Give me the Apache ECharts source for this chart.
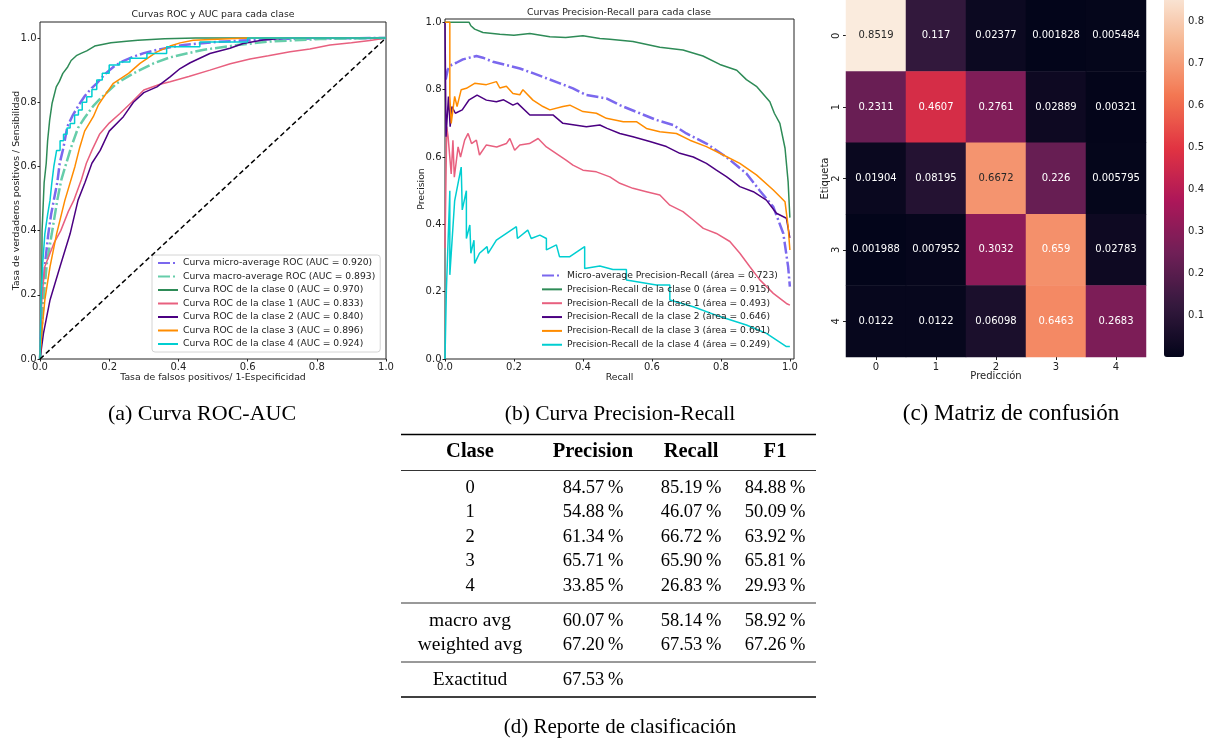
<!DOCTYPE html>
<html>
<head>
<meta charset="utf-8">
<script src="https://cdn.jsdelivr.net/npm/echarts@6/dist/echarts.min.js"></script>
<style>
  html, body { margin: 0; padding: 0; background: #fff; }
  #chart { width: 1207px; height: 742px; }
</style>
</head>
<body>
<div id="chart"></div>
<script>
// ---------- ROC curves: [false positive rate, true positive rate] ----------
const rocMicro = [[0,0],[0.004,0.1],[0.007,0.184],[0.015,0.3],[0.024,0.39],[0.032,0.45],[0.04,0.495],[0.05,0.55],[0.057,0.61],[0.068,0.66],[0.079,0.724],[0.095,0.76],[0.115,0.796],[0.13,0.82],[0.15,0.845],[0.164,0.859],[0.19,0.89],[0.212,0.91],[0.24,0.928],[0.27,0.942],[0.3,0.953],[0.338,0.963],[0.38,0.972],[0.415,0.978],[0.46,0.983],[0.511,0.988],[0.58,0.992],[0.656,0.996],[0.8,0.999],[1,1]];
const rocMacro = [[0,0],[0.01,0.184],[0.02,0.3],[0.034,0.39],[0.05,0.495],[0.062,0.56],[0.076,0.61],[0.09,0.66],[0.11,0.72],[0.128,0.75],[0.153,0.787],[0.175,0.812],[0.193,0.83],[0.222,0.859],[0.27,0.89],[0.328,0.921],[0.376,0.94],[0.47,0.963],[0.57,0.978],[0.66,0.989],[0.81,0.997],[1,1]];
const rocClase0 = [[0,0],[0.003,0.1],[0.005,0.25],[0.006,0.4],[0.01,0.5],[0.012,0.55],[0.018,0.61],[0.022,0.68],[0.028,0.745],[0.035,0.797],[0.047,0.848],[0.056,0.865],[0.066,0.89],[0.08,0.91],[0.09,0.93],[0.105,0.945],[0.12,0.953],[0.135,0.96],[0.158,0.975],[0.18,0.98],[0.205,0.985],[0.25,0.99],[0.283,0.993],[0.36,0.998],[0.45,1.0],[1,1]];
const rocClase1 = [[0,0],[0.005,0.184],[0.014,0.288],[0.04,0.36],[0.06,0.4],[0.082,0.46],[0.098,0.495],[0.12,0.56],[0.134,0.61],[0.15,0.65],[0.172,0.7],[0.2,0.735],[0.231,0.765],[0.265,0.8],[0.3,0.838],[0.347,0.856],[0.376,0.864],[0.43,0.88],[0.491,0.9],[0.55,0.92],[0.607,0.935],[0.66,0.945],[0.723,0.957],[0.78,0.966],[0.838,0.978],[0.9,0.985],[0.954,0.992],[1,1]];
const rocClase2 = [[0,0],[0.01,0.08],[0.029,0.184],[0.058,0.288],[0.087,0.39],[0.11,0.495],[0.13,0.55],[0.15,0.61],[0.174,0.65],[0.2,0.71],[0.241,0.755],[0.27,0.8],[0.3,0.83],[0.338,0.848],[0.376,0.879],[0.405,0.905],[0.434,0.923],[0.491,0.952],[0.549,0.968],[0.587,0.983],[0.645,0.994],[0.713,1.0],[1,1]];
const rocClase3 = [[0,0],[0.005,0.08],[0.014,0.184],[0.029,0.288],[0.048,0.39],[0.072,0.495],[0.079,0.52],[0.101,0.6],[0.115,0.66],[0.129,0.71],[0.154,0.755],[0.168,0.79],[0.178,0.807],[0.212,0.859],[0.256,0.89],[0.289,0.921],[0.338,0.957],[0.376,0.975],[0.405,0.985],[0.443,0.993],[0.6,1.0],[1,1]];
const rocClase4 = [[0,0],[0.003,0.18],[0.008,0.3],[0.014,0.39],[0.022,0.45],[0.029,0.495],[0.034,0.547],[0.04,0.6],[0.048,0.65],[0.058,0.65],[0.058,0.68],[0.068,0.68],[0.068,0.7],[0.078,0.7],[0.078,0.72],[0.087,0.72],[0.087,0.734],[0.1,0.734],[0.1,0.76],[0.111,0.76],[0.111,0.776],[0.122,0.776],[0.122,0.8],[0.135,0.8],[0.135,0.817],[0.15,0.817],[0.15,0.84],[0.164,0.84],[0.164,0.869],[0.18,0.869],[0.18,0.89],[0.2,0.89],[0.2,0.916],[0.23,0.916],[0.23,0.925],[0.26,0.925],[0.26,0.937],[0.309,0.937],[0.309,0.952],[0.366,0.952],[0.366,0.973],[0.462,0.973],[0.462,0.988],[0.6,0.988],[0.6,1.0],[1,1]];
const rocAuc = [0.920, 0.893, 0.970, 0.833, 0.840, 0.896, 0.924];

// ---------- Precision-Recall curves: [recall, precision] ----------
const prMicro = [[0.002,0.83],[0.008,0.86],[0.02,0.875],[0.033,0.88],[0.052,0.89],[0.07,0.895],[0.091,0.9],[0.11,0.895],[0.139,0.883],[0.178,0.873],[0.217,0.863],[0.255,0.849],[0.294,0.834],[0.333,0.819],[0.371,0.804],[0.41,0.784],[0.468,0.774],[0.507,0.754],[0.565,0.73],[0.613,0.71],[0.662,0.695],[0.7,0.67],[0.758,0.64],[0.816,0.6],[0.874,0.551],[0.913,0.5],[0.952,0.452],[0.981,0.373],[0.995,0.274],[1.0,0.215]];
const prClase0 = [[0,1],[0.07,1],[0.075,0.99],[0.086,0.98],[0.11,0.97],[0.159,0.965],[0.2,0.962],[0.246,0.967],[0.304,0.957],[0.35,0.955],[0.4,0.96],[0.449,0.952],[0.478,0.95],[0.545,0.943],[0.623,0.926],[0.69,0.918],[0.748,0.9],[0.797,0.875],[0.846,0.858],[0.874,0.83],[0.903,0.81],[0.942,0.764],[0.955,0.73],[0.971,0.7],[0.986,0.626],[0.995,0.526],[1.0,0.42]];
const prClase1 = [[0,0.33],[0.005,0.69],[0.009,0.66],[0.018,0.55],[0.023,0.65],[0.027,0.54],[0.038,0.63],[0.045,0.6],[0.057,0.65],[0.067,0.67],[0.077,0.64],[0.091,0.65],[0.1,0.606],[0.12,0.636],[0.15,0.63],[0.178,0.64],[0.188,0.655],[0.202,0.62],[0.217,0.636],[0.245,0.64],[0.27,0.655],[0.294,0.63],[0.323,0.61],[0.352,0.59],[0.371,0.576],[0.4,0.561],[0.439,0.556],[0.478,0.541],[0.507,0.522],[0.545,0.507],[0.584,0.497],[0.623,0.487],[0.652,0.457],[0.69,0.438],[0.72,0.413],[0.749,0.388],[0.787,0.373],[0.826,0.349],[0.855,0.314],[0.884,0.274],[0.913,0.235],[0.952,0.195],[0.99,0.165],[1.0,0.16]];
const prClase2 = [[0,1.0],[0.003,0.66],[0.01,0.78],[0.015,0.69],[0.02,0.75],[0.03,0.73],[0.05,0.74],[0.07,0.77],[0.093,0.784],[0.12,0.769],[0.149,0.764],[0.17,0.77],[0.197,0.754],[0.21,0.76],[0.246,0.725],[0.313,0.725],[0.342,0.7],[0.41,0.69],[0.449,0.695],[0.47,0.685],[0.507,0.67],[0.545,0.66],[0.594,0.646],[0.642,0.631],[0.681,0.611],[0.72,0.6],[0.758,0.581],[0.787,0.561],[0.816,0.542],[0.855,0.512],[0.894,0.497],[0.932,0.472],[0.961,0.433],[0.99,0.418],[1.0,0.36]];
const prClase3 = [[0,1],[0.014,1],[0.014,0.78],[0.018,0.7],[0.028,0.78],[0.035,0.75],[0.047,0.8],[0.062,0.804],[0.086,0.819],[0.12,0.815],[0.149,0.824],[0.159,0.805],[0.178,0.81],[0.197,0.789],[0.217,0.785],[0.226,0.8],[0.255,0.769],[0.284,0.75],[0.304,0.74],[0.342,0.75],[0.362,0.754],[0.4,0.735],[0.439,0.73],[0.468,0.715],[0.517,0.705],[0.555,0.705],[0.584,0.685],[0.623,0.675],[0.671,0.67],[0.71,0.65],[0.758,0.631],[0.807,0.606],[0.855,0.581],[0.903,0.547],[0.952,0.502],[0.986,0.467],[0.995,0.393],[1.0,0.324]];
const prClase4 = [[0,0],[0.004,0.205],[0.014,0.5],[0.014,0.25],[0.028,0.47],[0.047,0.57],[0.05,0.443],[0.062,0.5],[0.062,0.358],[0.072,0.398],[0.075,0.314],[0.084,0.353],[0.086,0.284],[0.1,0.314],[0.122,0.334],[0.125,0.314],[0.149,0.353],[0.178,0.373],[0.207,0.393],[0.21,0.358],[0.24,0.383],[0.25,0.358],[0.275,0.368],[0.294,0.358],[0.294,0.324],[0.323,0.339],[0.332,0.304],[0.362,0.304],[0.405,0.334],[0.405,0.269],[0.449,0.276],[0.487,0.266],[0.526,0.266],[0.526,0.235],[0.613,0.22],[0.652,0.22],[0.652,0.175],[0.72,0.155],[0.797,0.126],[0.874,0.101],[0.932,0.076],[0.99,0.037],[1.0,0.037]];
const prArea = [0.723, 0.915, 0.493, 0.646, 0.691, 0.249];

// ---------- Normalised confusion matrix (rows: true label, cols: prediction) ----------
const clasesCM = ['0', '1', '2', '3', '4'];
const matrizConfusion = [
  [0.8519, 0.117, 0.02377, 0.001828, 0.005484],
  [0.2311, 0.4607, 0.2761, 0.02889, 0.00321],
  [0.01904, 0.08195, 0.6672, 0.226, 0.005795],
  [0.001988, 0.007952, 0.3032, 0.659, 0.02783],
  [0.0122, 0.0122, 0.06098, 0.6463, 0.2683]
];
const colorbarTicks = [0.1, 0.2, 0.3, 0.4, 0.5, 0.6, 0.7, 0.8];

// ---------- Classification report ----------
const clasesTabla = ['0', '1', '2', '3', '4'];
const precisionTabla = [84.57, 54.88, 61.34, 65.71, 33.85];
const recallTabla = [85.19, 46.07, 66.72, 65.90, 26.83];
const f1Tabla = [84.88, 50.09, 63.92, 65.81, 29.93];
const promedios = ['macro avg', 'weighted avg'];
const precisionProm = [60.07, 67.20];
const recallProm = [58.14, 67.53];
const f1Prom = [58.92, 67.26];
const exactitud = 67.53;

const unitTicks = [0, 0.2, 0.4, 0.6, 0.8, 1.0];
const SANS = 'DejaVu Sans';
const SERIF = 'Liberation Serif';
const INK = '#222';
const NAME_SIZE = 9.3;

// rocket colour map stops
const rocket = ['#03051a', '#35193e', '#701f57', '#ad1759', '#e13342', '#f37651', '#f6b48f', '#faebdd'];

const chart = echarts.init(document.getElementById('chart'), null, { renderer: 'canvas' });

const dashDot = [12, 3, 2, 3];
function curve(name, data, color, xi, opts) {
  opts = opts || {};
  return {
    type: 'line', name: name, data: data,
    xAxisIndex: xi, yAxisIndex: xi,
    symbol: 'none', showSymbol: false, animation: false,
    lineStyle: { color: color, width: opts.width || 1.5, type: opts.type || 'solid' },
    itemStyle: { color: color },
    z: opts.z || 3, silent: true
  };
}

const rocColors = ['#7b68ee', '#66cdaa', '#2e8b57', '#e8607f', '#4b0082', '#ff8c00', '#00ced1'];
const rocNames = [
  'Curva micro-average ROC (AUC = ' + rocAuc[0].toFixed(3) + ')',
  'Curva macro-average ROC (AUC = ' + rocAuc[1].toFixed(3) + ')'
].concat([0, 1, 2, 3, 4].map(k => 'Curva ROC de la clase ' + k + ' (AUC = ' + rocAuc[k + 2].toFixed(3) + ')'));
const rocData = [rocMicro, rocMacro, rocClase0, rocClase1, rocClase2, rocClase3, rocClase4];

const prColors = ['#7b68ee', '#2e8b57', '#e8607f', '#4b0082', '#ff8c00', '#00ced1'];
const prNames = ['Micro-average Precision-Recall (área = ' + prArea[0].toFixed(3) + ')']
  .concat([0, 1, 2, 3, 4].map(k => 'Precision-Recall de la clase ' + k + ' (área = ' + prArea[k + 1].toFixed(3) + ')'));
const prData = [prMicro, prClase0, prClase1, prClase2, prClase3, prClase4];

const series = [];
rocData.forEach((d, i) => series.push(curve(rocNames[i], d, rocColors[i], 0,
  i < 2 ? { width: 2.5, type: dashDot } : {})));
series.push(curve('diagonal', [[0, 0], [1, 1]], '#000', 0, { width: 1.5, type: [5, 3], z: 4 }));
prData.forEach((d, i) => series.push(curve(prNames[i], d, prColors[i], 1,
  i === 0 ? { width: 2.5, type: dashDot } : {})));

const cmMin = Math.min.apply(null, matrizConfusion.flat());
const cmMax = Math.max.apply(null, matrizConfusion.flat());
const heatData = [];
matrizConfusion.forEach((row, r) => row.forEach((v, c) => {
  heatData.push({
    value: [c, r, v],
    label: { color: v > 0.66 ? '#262626' : '#ffffff' }
  });
}));
const heatIndex = series.length;
series.push({
  type: 'heatmap', xAxisIndex: 2, yAxisIndex: 2, data: heatData,
  label: { show: true, fontFamily: SANS, fontSize: 10, formatter: p => String(p.value[2]) },
  itemStyle: { borderWidth: 0 }, silent: true, animation: false
});
series.push({ type: 'scatter', xAxisIndex: 3, yAxisIndex: 3, data: [], silent: true });

function valueAxis(grid, min, max, name, gap, extra) {
  return Object.assign({
    type: 'value', gridIndex: grid, min: min, max: max,
    axisLine: { show: false },
    axisTick: { show: true, length: 2.5, lineStyle: { color: INK, width: 1 }, customValues: unitTicks },
    axisLabel: { fontFamily: SANS, fontSize: 10, color: INK, margin: 3.5, customValues: unitTicks,
      formatter: v => v.toFixed(1) },
    splitLine: { show: false },
    name: name, nameLocation: 'middle', nameGap: gap, nameMoveOverlap: false,
    nameTextStyle: { fontFamily: SANS, fontSize: NAME_SIZE, color: INK }
  }, extra || {});
}

const catAxisBase = {
  type: 'category', data: clasesCM, gridIndex: 2,
  axisLine: { show: false },
  axisTick: { show: true, alignWithLabel: true, length: 3, lineStyle: { color: INK } },
  axisLabel: { fontFamily: SANS, fontSize: 10, color: INK, margin: 5 },
  nameLocation: 'middle', nameMoveOverlap: false,
  nameTextStyle: { fontFamily: SANS, fontSize: 10, color: INK }
};

// graphic elements: panel titles, captions and the report table
const graphics = [];
function txt(s, x, y, size, family, weight, color) {
  graphics.push({
    type: 'text', x: x, y: y, silent: true,
    style: { text: s, align: 'center', verticalAlign: 'middle', fontSize: size,
      fontFamily: family, fontWeight: weight || 'normal', fill: color || '#000' }
  });
}
function rule(y, w) {
  graphics.push({ type: 'line', silent: true, shape: { x1: 401, y1: y, x2: 816, y2: y },
    style: { stroke: '#000', lineWidth: w } });
}
txt('Curvas ROC y AUC para cada clase', 213, 15, NAME_SIZE, SANS, 'normal', INK);
txt('Curvas Precision-Recall para cada clase', 619, 12.5, NAME_SIZE, SANS, 'normal', INK);
txt('(a) Curva ROC-AUC', 202, 414, 22, SERIF);
txt('(b) Curva Precision-Recall', 620, 414, 21.5, SERIF);
txt('(c) Matriz de confusión', 1011, 414, 23, SERIF);
txt('(d) Reporte de clasificación', 620, 727, 21, SERIF);

const colX = [470, 593, 691, 775];
const BODY = 18.5;
const pct = v => v.toFixed(2) + '\u2009%';
rule(434.5, 1.6);
['Clase', 'Precision', 'Recall', 'F1'].forEach((h, i) => txt(h, colX[i], 452, 20.5, SERIF, 'bold'));
rule(470.5, 0.8);
const rowY = [488, 512.5, 537, 561.5, 586];
clasesTabla.forEach((c, i) => {
  txt(c, colX[0], rowY[i], BODY, SERIF);
  txt(pct(precisionTabla[i]), colX[1], rowY[i], BODY, SERIF);
  txt(pct(recallTabla[i]), colX[2], rowY[i], BODY, SERIF);
  txt(pct(f1Tabla[i]), colX[3], rowY[i], BODY, SERIF);
});
rule(603, 0.8);
const avgY = [621, 645];
promedios.forEach((c, i) => {
  txt(c, colX[0], avgY[i], 19.5, SERIF);
  txt(pct(precisionProm[i]), colX[1], avgY[i], BODY, SERIF);
  txt(pct(recallProm[i]), colX[2], avgY[i], BODY, SERIF);
  txt(pct(f1Prom[i]), colX[3], avgY[i], BODY, SERIF);
});
rule(662, 0.8);
txt('Exactitud', colX[0], 680, 19.5, SERIF);
txt(pct(exactitud), colX[1], 680, BODY, SERIF);
rule(697, 1.6);

const legendBase = {
  orient: 'vertical', itemWidth: 20, itemHeight: 10,
  itemStyle: { opacity: 0, borderWidth: 0 },
  textStyle: { fontFamily: SANS, fontSize: 9.2, color: INK, lineHeight: 10 },
  selectedMode: false
};

const option = {
  backgroundColor: '#fff',
  animation: false,
  grid: [
    { left: 40, top: 22, width: 346, height: 337, show: true, borderColor: INK, borderWidth: 1, backgroundColor: 'transparent' },
    { left: 445, top: 19, width: 349, height: 340, show: true, borderColor: INK, borderWidth: 1, backgroundColor: 'transparent' },
    { left: 846, top: -8, width: 300, height: 365 },
    { left: 1164, top: -8, width: 20, height: 365 }
  ],
  xAxis: [
    valueAxis(0, 0, 1, 'Tasa de falsos positivos/ 1-Especificidad', 14),
    valueAxis(1, 0, 1.012, 'Recall', 14),
    Object.assign({}, catAxisBase, { name: 'Predicción', nameGap: 14 }),
    { type: 'value', gridIndex: 3, min: 0, max: 1, show: false }
  ],
  yAxis: [
    valueAxis(0, 0, 1.05, 'Tasa de verdaderos positivos / Sensibilidad', 19),
    valueAxis(1, 0, 1.01, 'Precision', 19),
    Object.assign({}, catAxisBase, { inverse: true, name: 'Etiqueta', nameGap: 16,
      axisLabel: Object.assign({}, catAxisBase.axisLabel, { rotate: 90 }) }),
    {
      type: 'value', gridIndex: 3, position: 'right', min: cmMin, max: cmMax,
      axisLine: { show: false }, splitLine: { show: false },
      axisTick: { show: true, length: 3, lineStyle: { color: INK }, customValues: colorbarTicks },
      axisLabel: { fontFamily: SANS, fontSize: 10, color: INK, margin: 5, customValues: colorbarTicks,
        formatter: v => v.toFixed(1) }
    }
  ],
  visualMap: {
    type: 'continuous', seriesIndex: heatIndex, dimension: 2,
    min: cmMin, max: cmMax, calculable: false, realtime: false,
    left: 1164, top: -8, itemWidth: 20, itemHeight: 365, padding: 0,
    text: null, showLabel: false, hoverLink: false,
    inRange: { color: rocket }
  },
  legend: [
    Object.assign({}, legendBase, {
      data: rocNames, left: 152, top: 255, itemGap: 3.5, padding: [3, 5, 3, 5],
      backgroundColor: '#fff', borderColor: '#d4d4d4', borderWidth: 1, borderRadius: 3
    }),
    Object.assign({}, legendBase, {
      data: prNames, left: 541, top: 270.5, itemGap: 3.85, padding: 0
    })
  ],
  graphic: graphics,
  series: series
};
chart.setOption(option);
</script>
</body>
</html>
